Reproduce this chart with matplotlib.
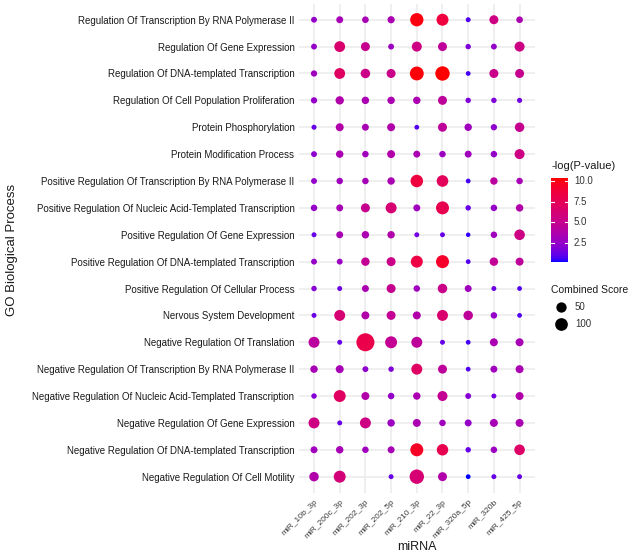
import numpy as np
import matplotlib
matplotlib.use("Agg")
import matplotlib.pyplot as plt
from matplotlib.colors import ListedColormap, Normalize

plt.rcParams['font.family'] = ['Liberation Sans', 'DejaVu Sans']

mirnas = ["miR_10b_3p", "miR_200c_3p", "miR_202_3p", "miR_202_5p", "miR_210_3p",
          "miR_22_3p", "miR_320a_5p", "miR_320b", "miR_425_5p"]

processes = [
    "Regulation Of Transcription By RNA Polymerase II",
    "Regulation Of Gene Expression",
    "Regulation Of DNA-templated Transcription",
    "Regulation Of Cell Population Proliferation",
    "Protein Phosphorylation",
    "Protein Modification Process",
    "Positive Regulation Of Transcription By RNA Polymerase II",
    "Positive Regulation Of Nucleic Acid-Templated Transcription",
    "Positive Regulation Of Gene Expression",
    "Positive Regulation Of DNA-templated Transcription",
    "Positive Regulation Of Cellular Process",
    "Nervous System Development",
    "Negative Regulation Of Translation",
    "Negative Regulation Of Transcription By RNA Polymerase II",
    "Negative Regulation Of Nucleic Acid-Templated Transcription",
    "Negative Regulation Of Gene Expression",
    "Negative Regulation Of DNA-templated Transcription",
    "Negative Regulation Of Cell Motility",
]

# -log(P-value), rows = processes, cols = miRNAs (nan = no point)
neglogp = [
    [2.5, 3.3, 3.3, 3.5, 10.0, 8.5, 0.8, 5.5, 3.5],
    [2.5, 6.5, 5.0, 2.8, 5.5, 4.5, 1.8, 2.5, 5.5],
    [3.0, 7.0, 5.3, 5.3, 10.2, 10.35, 0.6, 5.3, 5.0],
    [2.5, 3.8, 3.5, 3.5, 3.5, 4.5, 1.8, 1.8, 1.5],
    [1.2, 3.8, 3.3, 3.8, 0.8, 4.5, 3.0, 2.3, 5.0],
    [2.3, 3.5, 3.0, 3.8, 3.5, 2.8, 3.0, 2.5, 5.5],
    [2.5, 3.0, 3.2, 3.5, 8.5, 7.3, 0.6, 4.3, 3.3],
    [2.5, 3.3, 5.0, 6.3, 3.0, 7.8, 1.2, 2.5, 3.8],
    [1.2, 3.3, 3.5, 3.8, 1.5, 1.2, 0.4, 3.0, 5.5],
    [2.5, 2.8, 4.8, 5.3, 8.3, 9.3, 0.8, 4.7, 4.5],
    [2.0, 1.3, 3.5, 5.0, 3.0, 5.3, 3.0, 1.3, 0.8],
    [1.3, 6.3, 3.8, 4.8, 3.8, 6.5, 4.5, 2.5, 0.8],
    [4.3, 1.2, 8.0, 4.8, 4.5, 1.2, 0.6, 3.5, 3.3],
    [3.3, 3.3, 2.3, 1.8, 7.0, 4.5, 0.8, 3.0, 3.5],
    [2.0, 7.0, 3.8, 2.5, 3.5, 4.8, 2.0, 1.5, 3.8],
    [5.5, 1.2, 5.5, 2.8, 3.5, 3.0, 2.5, 3.3, 3.5],
    [3.0, 3.3, 3.0, 3.3, 9.5, 7.8, 1.2, 2.8, 6.8],
    [3.8, 6.0, np.nan, 1.2, 6.3, 3.8, 0.2, 1.2, 1.2],
]

combined_score = [
    [3, 9, 7, 11, 115, 83, 0.5, 30, 7],
    [3, 60, 30, 3, 45, 30, 1.5, 3, 45],
    [5, 60, 37, 30, 130, 145, 0.3, 30, 30],
    [5, 22, 13, 13, 13, 30, 1.5, 1.5, 0.8],
    [0.6, 18, 9, 18, 0.3, 30, 13, 5, 37],
    [3, 13, 6, 18, 9, 6, 9, 6, 45],
    [3, 6, 6, 13, 95, 75, 0.3, 13, 6],
    [6, 9, 30, 62, 9, 107, 1.5, 6, 13],
    [0.5, 9, 13, 13, 0.5, 0.5, 0.2, 6, 55],
    [3, 3, 23, 30, 83, 107, 0.3, 23, 18],
    [1.5, 0.5, 9, 30, 6, 37, 9, 0.5, 0.3],
    [0.5, 62, 18, 30, 18, 62, 37, 6, 0.3],
    [62, 0.5, 270, 83, 62, 0.5, 0.3, 18, 18],
    [13, 18, 3, 1.5, 62, 30, 0.3, 9, 18],
    [1.5, 83, 18, 6, 13, 45, 3, 0.5, 18],
    [62, 0.5, 62, 13, 18, 6, 9, 18, 18],
    [9, 13, 6, 9, 107, 72, 1.5, 6, 55],
    [37, 83, np.nan, 0.5, 145, 30, 0.3, 0.5, 0.5],
]

size_legend_values = [50, 100]
color_ticks = [2.5, 5.0, 7.5, 10.0]

# ---------- colour scale: blue -> red interpolated in CIE Lab (like ggplot) ----------
def srgb_to_lab(rgb):
    rgb = np.asarray(rgb, float)
    lin = np.where(rgb <= 0.04045, rgb / 12.92, ((rgb + 0.055) / 1.055) ** 2.4)
    M = np.array([[0.4124564, 0.3575761, 0.1804375],
                  [0.2126729, 0.7151522, 0.0721750],
                  [0.0193339, 0.1191920, 0.9503041]])
    xyz = M @ lin / np.array([0.95047, 1.0, 1.08883])
    f = np.where(xyz > 0.008856, np.cbrt(xyz), 7.787 * xyz + 16 / 116)
    return np.array([116 * f[1] - 16, 500 * (f[0] - f[1]), 200 * (f[1] - f[2])])

def lab_to_srgb(lab):
    L, a, b = lab
    fy = (L + 16) / 116
    fx = fy + a / 500
    fz = fy - b / 200
    f = np.array([fx, fy, fz])
    xyz = np.where(f ** 3 > 0.008856, f ** 3, (f - 16 / 116) / 7.787)
    xyz = xyz * np.array([0.95047, 1.0, 1.08883])
    Minv = np.array([[3.2404542, -1.5371385, -0.4985314],
                     [-0.9692660, 1.8760108, 0.0415560],
                     [0.0556434, -0.2040259, 1.0572252]])
    lin = np.clip(Minv @ xyz, 0, 1)
    rgb = np.where(lin <= 0.0031308, 12.92 * lin, 1.055 * lin ** (1 / 2.4) - 0.055)
    return np.clip(rgb, 0, 1)

lab_lo = srgb_to_lab([0, 0, 1])
lab_hi = srgb_to_lab([1, 0, 0])
cols = [lab_to_srgb(lab_lo + t * (lab_hi - lab_lo)) for t in np.linspace(0, 1, 256)]
cmap = ListedColormap(cols)

P = np.array(neglogp, float)
S = np.array(combined_score, float)
cnorm = Normalize(vmin=np.nanmin(P), vmax=np.nanmax(P))

DPI = 100
smin, smax = np.nanmin(S), np.nanmax(S)

def size_pt2(v):
    v = np.asarray(v, float)
    d_px = 4.5 + 13.5 * np.sqrt(np.clip((v - smin) / (smax - smin), 0, 1))
    return (d_px * 72.0 / DPI) ** 2

W, H = 630, 554
fig = plt.figure(figsize=(W / DPI, H / DPI), dpi=DPI)

left, right, top, bottom = 298.6, 535.0, 3.6, 492.8
ax = fig.add_axes([left / W, 1 - bottom / H, (right - left) / W, (bottom - top) / H])

nr, nc = P.shape
xx, yy = np.meshgrid(np.arange(nc), np.arange(nr))
mask = ~np.isnan(P)
ax.scatter(xx[mask], (nr - 1 - yy)[mask], s=size_pt2(S[mask]), c=P[mask],
           cmap=cmap, norm=cnorm, linewidths=0, zorder=3)

ax.set_xlim(-0.6, nc - 1 + 0.6)
ax.set_ylim(-0.6, nr - 1 + 0.6)
ax.set_xticks(np.arange(nc))
ax.set_xticklabels(mirnas, rotation=45, ha='right', rotation_mode='anchor',
                   fontsize=6, color='#3a3a3a')
ax.set_yticks(np.arange(nr))
ax.set_yticklabels(processes[::-1], fontsize=7, color='#1a1a1a')
ax.tick_params(axis='both', length=0, pad=3)
ax.tick_params(axis='x', pad=4)
ax.grid(True, color='#EBEBEB', linewidth=1.1, zorder=0)
ax.set_axisbelow(True)
for sp in ax.spines.values():
    sp.set_visible(False)

fig.text(12 / W, 1 - 250 / H, "GO Biological Process", rotation=90,
         ha='center', va='center', fontsize=9.5, color='#1a1a1a')
fig.text(417 / W, 1 - 547 / H, "miRNA", ha='center', va='center',
         fontsize=9, color='#1a1a1a')

# ---------- colour bar ----------
cb_l, cb_r, cb_t, cb_b = 551, 568, 178, 262
cax = fig.add_axes([cb_l / W, 1 - cb_b / H, (cb_r - cb_l) / W, (cb_b - cb_t) / H])
grad = np.linspace(cnorm.vmin, cnorm.vmax, 300).reshape(-1, 1)
cax.imshow(grad, aspect='auto', cmap=cmap, norm=cnorm, origin='lower',
           extent=[0, 1, cnorm.vmin, cnorm.vmax])
for t in color_ticks:
    cax.plot([0, 0.2], [t, t], color='white', lw=0.8)
    cax.plot([0.8, 1], [t, t], color='white', lw=0.8)
    cax.text(1.35, t, f"{t:.1f}", ha='left', va='center', fontsize=7,
             color='#333333', clip_on=False)
cax.set_xlim(0, 1)
cax.set_ylim(cnorm.vmin, cnorm.vmax)
cax.axis('off')
fig.text(551 / W, 1 - 166 / H, "-log(P-value)", ha='left', va='center',
         fontsize=8, color='#1a1a1a')

# ---------- size legend ----------
lax = fig.add_axes([0, 0, 1, 1])
lax.set_xlim(0, W)
lax.set_ylim(H, 0)
lax.axis('off')
lax.patch.set_alpha(0)
fig.text(551 / W, 1 - 290 / H, "Combined Score", ha='left', va='center',
         fontsize=7.5, color='#1a1a1a')
for v, yp in zip(size_legend_values, [307, 324]):
    lax.scatter([561], [yp], s=size_pt2([v]), color='black', linewidths=0)
    lax.text(575, yp, str(v), ha='left', va='center', fontsize=7, color='#333333')

fig.savefig("out.png", dpi=DPI)
